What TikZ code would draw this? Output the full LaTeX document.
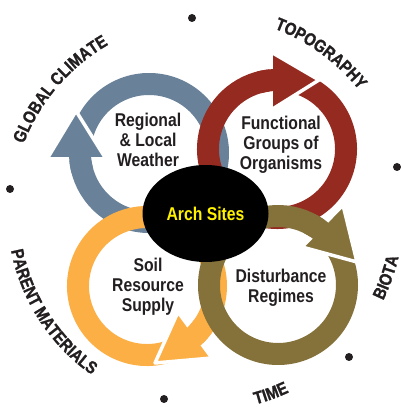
\documentclass[tikz,border=0pt]{standalone}
\usepackage{fontspec}
\newfontfamily\condfont{Liberation Sans}[FakeStretch=0.85,BoldFeatures={FakeStretch=0.85}]
\newfontfamily\condbold{Liberation Sans Bold}[FakeStretch=0.85,FakeBold=1.2]
\usetikzlibrary{decorations.text,calc,shapes.geometric}

\definecolor{ringblue}{HTML}{6A8299}
\definecolor{ringred}{HTML}{952B20}
\definecolor{ringorange}{HTML}{FBAF45}
\definecolor{ringolive}{HTML}{85713A}
\definecolor{ink}{HTML}{231F20}
\definecolor{archyellow}{HTML}{FFF200}

% #1 colour, #2 centre, #3 tail angle, #4 end angle (inside the head),
% #5 start of the shaft piece redrawn over the head outline,
% #6 apex, #7 and #8 base corners of the head
\newcommand{\ringarrow}[8]{%
  \draw[#1, line width=22] ($(#2)+(#3:69)$) arc[start angle=#3, end angle=#4, radius=69];
  \filldraw[fill=#1, draw=white, line width=3.5, line join=round] (#6) -- (#7) -- (#8) -- cycle;
  \draw[#1, line width=22] ($(#2)+(#5:69)$) arc[start angle=#5, end angle=#4, radius=69];
}

% #1 radius, #2 start angle, #3 end angle, #4 text
\newcommand{\arclabel}[4]{%
  {\condbold\fontsize{17.5}{18}\selectfont
  \path[decorate, decoration={text along path, text align=center, text color=ink,
      text={|\condbold\fontsize{17.5}{18}\selectfont|#4}}]
    ($(rim)+(#2:#1)$) arc[start angle=#2, end angle=#3, radius=#1];}%
}

\tikzset{
  ringtext/.style={font=\condfont\bfseries\fontsize{18.5}{20}\selectfont, text=ink, align=center, inner sep=0pt},
  archnode/.style={ellipse, fill=black, minimum width=126, minimum height=97, inner sep=0pt,
    font=\condfont\bfseries\fontsize{18.5}{20}\selectfont, text=archyellow},
  rimdot/.style={circle, fill=ink, minimum size=8, inner sep=0pt}
}

\begin{document}
\begin{tikzpicture}[x=1pt, y=1pt]
  \fill[white] (0,0) rectangle (401,407);
  \useasboundingbox (0,0) rectangle (401,407);

  % ring centres
  \coordinate (blueC) at (149,254);
  \coordinate (redC) at (277,258);
  \coordinate (orangeC) at (147,121);
  \coordinate (oliveC) at (278,122);
  \coordinate (rim) at (205,194);

  % arrow heads
  \coordinate (blueTip) at (76,296);
  \coordinate (blueB1) at (47,248);
  \coordinate (blueB2) at (106,248);
  \coordinate (redTip) at (319,327);
  \coordinate (redB1) at (271,355);
  \coordinate (redB2) at (271,297);
  \coordinate (orangeTip) at (155,44);
  \coordinate (orangeB1) at (178,95);
  \coordinate (orangeB2) at (212,49);
  \coordinate (oliveTip) at (357,145);
  \coordinate (oliveB1) at (343,202);
  \coordinate (oliveB2) at (302,160);

  \ringarrow{ringblue}{blueC}{170}{-178}{-165}{blueTip}{blueB1}{blueB2}
  \ringarrow{ringred}{redC}{76}{-268}{-255}{redTip}{redB1}{redB2}
  \ringarrow{ringorange}{orangeC}{-69}{-408.6}{-396}{orangeTip}{orangeB1}{orangeB2}
  \ringarrow{ringolive}{oliveC}{36}{-310}{-297}{oliveTip}{oliveB1}{oliveB2}

  \node[archnode] (arch) at (205.5,193.5) {Arch Sites};

  \node[ringtext] (weather) at (148,267) {Regional\\\& Local\\Weather};
  \node[ringtext] (groups) at (281,262) {Functional\\Groups of\\Organisms};
  \node[ringtext] (soil) at (148,120) {Soil\\Resource\\Supply};
  \node[ringtext] (disturb) at (281,119) {Disturbance\\Regimes};

  \arclabel{194}{184}{95}{GLOBAL CLIMATE}
  \arclabel{197}{99}{9}{TOPOGRAPHY}
  \arclabel{198.5}{-60}{21}{BIOTA}
  \arclabel{198}{-110}{-30}{TIME}
  \arclabel{197.5}{-192}{-102}{PARENT MATERIALS}

  \node[rimdot] (d1) at (192,389) {};
  \node[rimdot] (d2) at (10,218) {};
  \node[rimdot] (d3) at (397,240) {};
  \node[rimdot] (d4) at (164,8) {};
  \node[rimdot] (d5) at (349,50) {};
\end{tikzpicture}
\end{document}
